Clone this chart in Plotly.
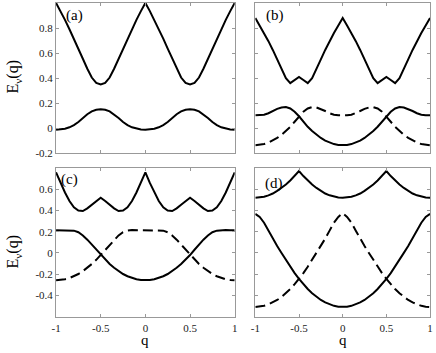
import plotly.graph_objects as go
from plotly.subplots import make_subplots

q = [-1.0, -0.95, -0.9, -0.85, -0.8, -0.75, -0.7, -0.65, -0.6, -0.55, -0.5,
     -0.45, -0.4, -0.35, -0.3, -0.25, -0.2, -0.15, -0.1, -0.05, 0.0,
     0.05, 0.1, 0.15, 0.2, 0.25, 0.3, 0.35, 0.4, 0.45, 0.5,
     0.55, 0.6, 0.65, 0.7, 0.75, 0.8, 0.85, 0.9, 0.95, 1.0]

# (a)
a_upper = [1.00, 0.935, 0.865, 0.79, 0.715, 0.635, 0.555, 0.475, 0.405, 0.362, 0.35,
           0.362, 0.405, 0.475, 0.555, 0.635, 0.715, 0.79, 0.865, 0.935, 1.00,
           0.935, 0.865, 0.79, 0.715, 0.635, 0.555, 0.475, 0.405, 0.362, 0.35,
           0.362, 0.405, 0.475, 0.555, 0.635, 0.715, 0.79, 0.865, 0.935, 1.00]
a_lower = [-0.012, -0.01, -0.003, 0.008, 0.025, 0.05, 0.082, 0.112, 0.135, 0.148, 0.152,
           0.148, 0.135, 0.112, 0.082, 0.05, 0.025, 0.008, -0.003, -0.01, -0.012,
           -0.01, -0.003, 0.008, 0.025, 0.05, 0.082, 0.112, 0.135, 0.148, 0.152,
           0.148, 0.135, 0.112, 0.082, 0.05, 0.025, 0.008, -0.003, -0.01, -0.012]

# (b)
b_upper = [0.88, 0.82, 0.76, 0.695, 0.625, 0.55, 0.47, 0.40, 0.36, 0.385, 0.41,
           0.385, 0.36, 0.40, 0.47, 0.55, 0.625, 0.695, 0.76, 0.82, 0.88,
           0.82, 0.76, 0.695, 0.625, 0.55, 0.47, 0.40, 0.36, 0.385, 0.41,
           0.385, 0.36, 0.40, 0.47, 0.55, 0.625, 0.695, 0.76, 0.82, 0.88]
b_solid = [0.103, 0.104, 0.108, 0.12, 0.138, 0.155, 0.166, 0.169, 0.158, 0.132, 0.096,
           0.052, 0.012, -0.022, -0.052, -0.077, -0.098, -0.114, -0.126, -0.133, -0.135,
           -0.133, -0.126, -0.114, -0.098, -0.077, -0.052, -0.022, 0.012, 0.052, 0.096,
           0.132, 0.158, 0.169, 0.166, 0.155, 0.138, 0.12, 0.108, 0.104, 0.103]
b_dashed = [-0.135, -0.133, -0.126, -0.114, -0.098, -0.077, -0.052, -0.022, 0.012, 0.052, 0.096,
            0.132, 0.158, 0.169, 0.166, 0.155, 0.138, 0.12, 0.108, 0.104, 0.103,
            0.104, 0.108, 0.12, 0.138, 0.155, 0.166, 0.169, 0.158, 0.132, 0.096,
            0.052, 0.012, -0.022, -0.052, -0.077, -0.098, -0.114, -0.126, -0.133, -0.135]

# (c)
c_upper = [0.76, 0.66, 0.57, 0.49, 0.43, 0.40, 0.395, 0.42, 0.455, 0.49, 0.52,
           0.49, 0.455, 0.42, 0.395, 0.40, 0.43, 0.49, 0.57, 0.66, 0.76,
           0.66, 0.57, 0.49, 0.43, 0.40, 0.395, 0.42, 0.455, 0.49, 0.52,
           0.49, 0.455, 0.42, 0.395, 0.40, 0.43, 0.49, 0.57, 0.66, 0.76]
c_solid = [0.214, 0.214, 0.215, 0.216, 0.21, 0.195, 0.165, 0.125, 0.08, 0.03, -0.02,
           -0.065, -0.105, -0.14, -0.172, -0.199, -0.22, -0.237, -0.249, -0.256, -0.258,
           -0.256, -0.249, -0.237, -0.22, -0.199, -0.172, -0.14, -0.105, -0.065, -0.02,
           0.03, 0.08, 0.125, 0.165, 0.195, 0.21, 0.216, 0.215, 0.214, 0.214]
c_dashed = [-0.258, -0.256, -0.249, -0.237, -0.22, -0.199, -0.172, -0.14, -0.105, -0.065, -0.02,
            0.03, 0.08, 0.125, 0.165, 0.195, 0.21, 0.216, 0.215, 0.214, 0.214,
            0.214, 0.215, 0.216, 0.21, 0.195, 0.165, 0.125, 0.08, 0.03, -0.02,
            -0.065, -0.105, -0.14, -0.172, -0.199, -0.22, -0.237, -0.249, -0.256, -0.258]

# (d)
d_upper = [0.52, 0.523, 0.53, 0.543, 0.56, 0.585, 0.613, 0.645, 0.683, 0.725, 0.772,
           0.725, 0.683, 0.645, 0.613, 0.585, 0.56, 0.543, 0.53, 0.523, 0.52,
           0.523, 0.53, 0.543, 0.56, 0.585, 0.613, 0.645, 0.683, 0.725, 0.772,
           0.725, 0.683, 0.645, 0.613, 0.585, 0.56, 0.543, 0.53, 0.523, 0.52]
d_solid = [0.368, 0.34, 0.285, 0.21, 0.135, 0.065, 0.0, -0.065, -0.13, -0.19, -0.245,
           -0.295, -0.34, -0.38, -0.415, -0.444, -0.467, -0.486, -0.499, -0.507, -0.51,
           -0.507, -0.499, -0.486, -0.467, -0.444, -0.415, -0.38, -0.34, -0.295, -0.245,
           -0.19, -0.13, -0.065, 0.0, 0.065, 0.135, 0.21, 0.285, 0.34, 0.368]
d_dashed = [-0.51, -0.507, -0.499, -0.486, -0.467, -0.444, -0.415, -0.38, -0.34, -0.295, -0.245,
            -0.19, -0.13, -0.065, 0.0, 0.065, 0.135, 0.21, 0.285, 0.34, 0.375,
            0.34, 0.285, 0.21, 0.135, 0.065, 0.0, -0.065, -0.13, -0.19, -0.245,
            -0.295, -0.34, -0.38, -0.415, -0.444, -0.467, -0.486, -0.499, -0.507, -0.51]

x_ticks = [-1, -0.5, 0, 0.5, 1]
x_ticktext = ['-1', '-0.5', '0', '0.5', '1']
y_ticks_top = [-0.2, 0, 0.2, 0.4, 0.6, 0.8, 1]
y_ticktext_top = ['-0.2', '0', '0.2', '0.4', '0.6', '0.8', '1']
y_ticks_bot = [-0.4, -0.2, 0, 0.2, 0.4, 0.6]
y_ticktext_bot = ['-0.4', '-0.2', '0', '0.2', '0.4', '0.6']
panel_labels = ['(a)', '(b)', '(c)', '(d)']

W, H = 436, 353

fig = make_subplots(rows=2, cols=2)

solid = dict(color='black', width=2)
dashed = dict(color='black', width=2, dash='10px,5px')

fig.add_trace(go.Scatter(x=q, y=a_upper, mode='lines', line=solid), row=1, col=1)
fig.add_trace(go.Scatter(x=q, y=a_lower, mode='lines', line=solid), row=1, col=1)

fig.add_trace(go.Scatter(x=q, y=b_upper, mode='lines', line=solid), row=1, col=2)
fig.add_trace(go.Scatter(x=q, y=b_solid, mode='lines', line=solid), row=1, col=2)
fig.add_trace(go.Scatter(x=q, y=b_dashed, mode='lines', line=dashed), row=1, col=2)

fig.add_trace(go.Scatter(x=q, y=c_upper, mode='lines', line=solid), row=2, col=1)
fig.add_trace(go.Scatter(x=q, y=c_solid, mode='lines', line=solid), row=2, col=1)
fig.add_trace(go.Scatter(x=q, y=c_dashed, mode='lines', line=dashed), row=2, col=1)

fig.add_trace(go.Scatter(x=q, y=d_upper, mode='lines', line=solid), row=2, col=2)
fig.add_trace(go.Scatter(x=q, y=d_solid, mode='lines', line=solid), row=2, col=2)
fig.add_trace(go.Scatter(x=q, y=d_dashed, mode='lines', line=dashed), row=2, col=2)

axis_style = dict(ticks='inside', ticklen=3, tickcolor='#999', showline=True,
                  linecolor='#999', linewidth=1, mirror='ticks', showgrid=False,
                  zeroline=False, tickfont=dict(size=11, color='#222'))

xdom = {1: [52 / W, 234 / W], 2: [255 / W, 433 / W]}
ydom = {1: [1 - 156 / H, 1 - 3 / H], 2: [1 - 322 / H, 1 - 171 / H]}

for r in (1, 2):
    for c in (1, 2):
        fig.update_xaxes(axis_style, range=[-1, 1], tickvals=x_ticks, ticktext=x_ticktext,
                         showticklabels=(r == 2), ticklabelstandoff=1,
                         domain=xdom[c], row=r, col=c)
        if r == 1:
            fig.update_yaxes(axis_style, range=[-0.2, 1], tickvals=y_ticks_top,
                             ticktext=y_ticktext_top, showticklabels=(c == 1),
                             domain=ydom[r], row=r, col=c)
        else:
            fig.update_yaxes(axis_style, range=[-0.6, 0.8], tickvals=y_ticks_bot,
                             ticktext=y_ticktext_bot, showticklabels=(c == 1),
                             domain=ydom[r], row=r, col=c)

# panel labels
for lab, (px_, py_) in zip(panel_labels, [(71, 16), (275, 16), (66, 183), (274, 187)]):
    fig.add_annotation(text=lab, x=px_ / W, y=1 - py_ / H, xref='paper', yref='paper',
                       xanchor='center', yanchor='middle', showarrow=False,
                       font=dict(size=15, color='black'))

# axis titles
for py_ in (78, 256):
    fig.add_annotation(text='E<sub>ν</sub>(q)', x=9 / W, y=1 - py_ / H, xref='paper',
                       yref='paper', xanchor='center', yanchor='middle',
                       showarrow=False, textangle=-90,
                       font=dict(size=16, color='black'))
for px_ in (143, 344):
    fig.add_annotation(text='q', x=px_ / W, y=0, xref='paper', yref='paper',
                       xanchor='center', yanchor='bottom', showarrow=False,
                       borderpad=0, yshift=-2,
                       font=dict(size=15, color='black'))

fig.update_layout(width=W, height=H, showlegend=False,
                  font=dict(family='Liberation Serif'),
                  margin=dict(l=0, r=0, t=0, b=0),
                  paper_bgcolor='white', plot_bgcolor='white')

# the page body has a default 8px margin; drop it so the figure sits at 0,0
fig.write_html("out.html", config={'displayModeBar': False},
               post_script="document.body.style.margin='0';")
